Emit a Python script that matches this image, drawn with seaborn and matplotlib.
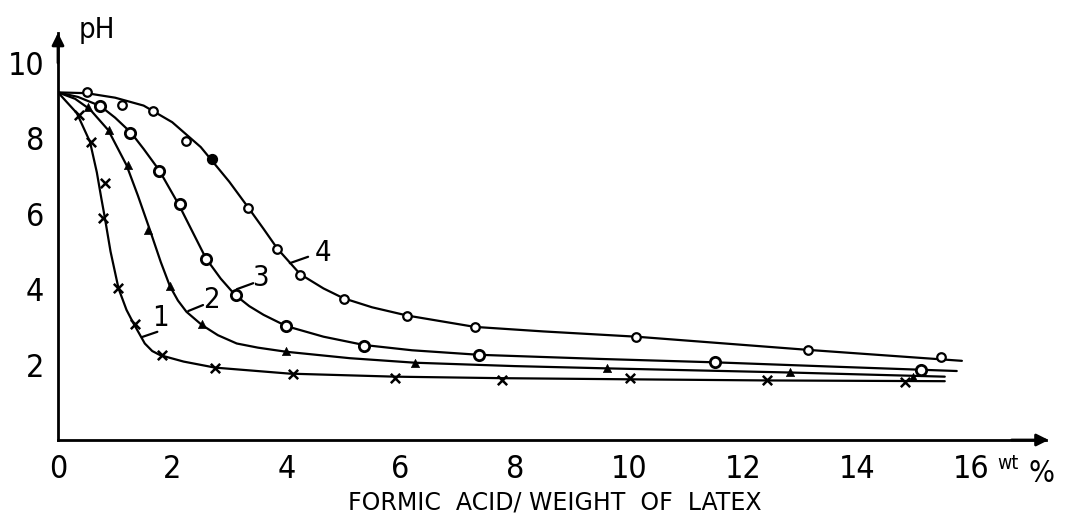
import matplotlib
matplotlib.use("Agg")
import matplotlib.pyplot as plt
import seaborn as sns
import pandas as pd

# ---------------- data ----------------
# measured points (markers)
x1 = [0.36, 0.57, 0.82, 0.79, 1.05, 1.34, 1.83, 2.75, 4.12, 5.90, 7.77, 10.02, 12.41, 14.83]
y1 = [8.62, 7.91, 6.83, 5.90, 4.02, 3.07, 2.25, 1.90, 1.75, 1.65, 1.59, 1.65, 1.59, 1.55]

x2 = [0.53, 0.90, 1.23, 1.58, 1.96, 2.53, 4.00, 6.25, 9.61, 12.82, 14.98]
y2 = [8.82, 8.22, 7.29, 5.57, 4.08, 3.07, 2.37, 2.03, 1.90, 1.80, 1.68]

x3 = [0.74, 1.26, 1.77, 2.14, 2.60, 3.12, 3.99, 5.36, 7.37, 11.51, 15.11]
y3 = [8.87, 8.15, 7.14, 6.25, 4.80, 3.85, 3.02, 2.50, 2.26, 2.08, 1.87]

x4 = [0.50, 1.12, 1.67, 2.25, 2.70, 3.33, 3.84, 4.24, 5.00, 6.12, 7.30, 10.13, 13.14, 15.46]
y4 = [9.22, 8.89, 8.73, 7.93, 7.45, 6.15, 5.07, 4.38, 3.73, 3.29, 2.99, 2.74, 2.39, 2.19]
filled4 = [False, False, False, False, True, False, False, False, False, False, False, False, False, False]

# drawn curves
cx1 = [0.0, 0.33, 0.56, 0.68, 0.76, 0.82, 0.92, 1.06, 1.20, 1.32, 1.52, 1.65, 1.79, 2.20, 2.75, 4.06, 5.90, 7.77, 10.0, 12.4, 15.53]
cy1 = [9.22, 8.67, 7.91, 7.10, 6.40, 5.90, 5.00, 4.02, 3.45, 3.10, 2.56, 2.36, 2.25, 2.08, 1.92, 1.76, 1.68, 1.64, 1.61, 1.58, 1.56]

cx2 = [0.0, 0.30, 0.56, 0.88, 1.20, 1.40, 1.61, 1.80, 1.96, 2.10, 2.25, 2.52, 2.80, 3.13, 3.50, 4.00, 5.11, 6.25, 8.00, 9.61, 12.82, 15.53]
cy2 = [9.22, 9.05, 8.77, 8.22, 7.29, 6.48, 5.57, 4.72, 4.08, 3.70, 3.40, 3.05, 2.78, 2.56, 2.45, 2.34, 2.17, 2.05, 1.96, 1.90, 1.79, 1.68]

cx3 = [0.0, 0.35, 0.74, 1.00, 1.28, 1.50, 1.77, 2.12, 2.35, 2.59, 2.85, 3.10, 3.35, 3.60, 4.00, 4.65, 5.36, 6.20, 7.37, 9.50, 11.51, 13.50, 15.74]
cy3 = [9.22, 9.10, 8.86, 8.55, 8.15, 7.72, 7.16, 6.23, 5.54, 4.82, 4.28, 3.85, 3.55, 3.32, 3.02, 2.74, 2.52, 2.38, 2.26, 2.15, 2.06, 1.95, 1.83]

cx4 = [0.0, 0.50, 1.00, 1.50, 2.00, 2.50, 3.00, 3.33, 3.60, 3.84, 4.24, 4.65, 5.00, 5.50, 6.12, 7.30, 8.50, 10.13, 13.14, 15.83]
cy4 = [9.22, 9.20, 9.08, 8.87, 8.43, 7.77, 6.85, 6.17, 5.60, 5.08, 4.40, 4.02, 3.76, 3.52, 3.30, 3.00, 2.88, 2.74, 2.39, 2.10]

curve_labels = ["1", "2", "3", "4"]
label_x = [1.79, 2.69, 3.54, 4.65]
label_y = [3.23, 3.71, 4.29, 4.95]
leader_x0 = [1.47, 2.28, 3.13, 4.06]
leader_y0 = [2.73, 3.42, 4.00, 4.69]
leader_x1 = [1.74, 2.54, 3.42, 4.38]
leader_y1 = [2.87, 3.58, 4.16, 4.86]

x_ticks = [0, 2, 4, 6, 8, 10, 12, 14, 16]
y_major = [2, 4, 6, 8, 10]
y_minor = [1, 3, 5, 7, 9]

x_title = "FORMIC  ACID/ WEIGHT  OF  LATEX"
y_title = "pH"
x_unit_a = "wt"
x_unit_b = "%"

# ---------------- style ----------------
sns.set_theme(style="white")
FONT = ["DejaVu Sans Condensed", "Liberation Sans Narrow", "DejaVu Sans"]
plt.rcParams["font.family"] = FONT
plt.rcParams["font.stretch"] = "condensed"
plt.rcParams["text.color"] = "black"
plt.rcParams["xtick.labelcolor"] = "black"
plt.rcParams["ytick.labelcolor"] = "black"

W, H = 1068, 522
fig = plt.figure(figsize=(W / 100, H / 100), dpi=100)
XMAX, YMAX = 17.3, 10.8
x0px, y0px = 58, 440
pxx, pxy = 57.1, 37.7
ax = fig.add_axes([x0px / W, (H - y0px) / H, XMAX * pxx / W, YMAX * pxy / H])
ax.set_xlim(0, XMAX)
ax.set_ylim(0, YMAX)

lw = 1.6
col = "black"

curves = [(cx1, cy1), (cx2, cy2), (cx3, cy3), (cx4, cy4)]
for cx, cy in curves:
    df = pd.DataFrame({"x": cx, "y": cy})
    sns.lineplot(data=df, x="x", y="y", sort=False, estimator=None, color=col,
                 lw=lw, ax=ax)

# markers
sns.scatterplot(x=x1, y=y1, marker="x", s=45, color=col, linewidth=1.8, ax=ax, zorder=5)
sns.scatterplot(x=x2, y=y2, marker="^", s=35, color=col, edgecolor=col, ax=ax, zorder=5)
sns.scatterplot(x=x3, y=y3, marker="o", s=55, facecolor="white", edgecolor=col,
                linewidth=2.0, ax=ax, zorder=5)
x4_open = [v for v, f in zip(x4, filled4) if not f]
y4_open = [v for v, f in zip(y4, filled4) if not f]
x4_fill = [v for v, f in zip(x4, filled4) if f]
y4_fill = [v for v, f in zip(y4, filled4) if f]
sns.scatterplot(x=x4_open, y=y4_open, marker="o", s=38, facecolor="white", edgecolor=col,
                linewidth=1.6, ax=ax, zorder=5)
sns.scatterplot(x=x4_fill, y=y4_fill, marker="o", s=42, facecolor=col, edgecolor=col,
                linewidth=1.6, ax=ax, zorder=5)

# curve labels with leader lines
for lab, tx, ty, a0, b0, a1, b1 in zip(curve_labels, label_x, label_y,
                                       leader_x0, leader_y0, leader_x1, leader_y1):
    ax.plot([a0, a1], [b0, b1], color=col, lw=1.6)
    ax.text(tx, ty, lab, fontsize=21, ha="center", va="center")

# axes styling
for s in ["top", "right"]:
    ax.spines[s].set_visible(False)
for s in ["left", "bottom"]:
    ax.spines[s].set_color(col)
    ax.spines[s].set_linewidth(2.0)

ax.set_xticks(x_ticks)
ax.set_xticklabels([str(v) for v in x_ticks])
ax.set_yticks(y_major)
ax.set_yticklabels([str(v) for v in y_major])
ax.set_yticks(y_minor, minor=True)
ax.tick_params(axis="both", which="both", direction="in", color=col, width=1.6)
ax.tick_params(axis="both", which="major", length=5, labelsize=23, labelcolor=col)
ax.tick_params(axis="y", which="minor", length=5)
ax.tick_params(axis="x", pad=10)
ax.tick_params(axis="y", pad=10)

# arrow heads on axes
ax.annotate("", xy=(0, YMAX), xytext=(0, YMAX - 0.8),
            arrowprops=dict(arrowstyle="-|>", color=col, lw=2.0,
                            mutation_scale=18, shrinkA=0, shrinkB=0),
            annotation_clip=False)
ax.annotate("", xy=(XMAX + 0.05, 0), xytext=(XMAX - 0.6, 0),
            arrowprops=dict(arrowstyle="-|>", color=col, lw=2.0,
                            mutation_scale=18, shrinkA=0, shrinkB=0),
            annotation_clip=False)

ax.set_xlabel("")
ax.set_ylabel("")

# titles / units
ax.text(0.68, 10.87, y_title, fontsize=21, ha="center", va="center", clip_on=False)
ax.text(8.7, -1.65, x_title, fontsize=17, ha="center", va="center", clip_on=False,
        fontstretch="normal", family="DejaVu Sans")
ax.text(16.64, -0.62, x_unit_a, fontsize=14, ha="center", va="center", clip_on=False)
ax.text(17.0, -0.9, x_unit_b, fontsize=22, ha="left", va="center", clip_on=False)

fig.savefig("out.png", dpi=100)
